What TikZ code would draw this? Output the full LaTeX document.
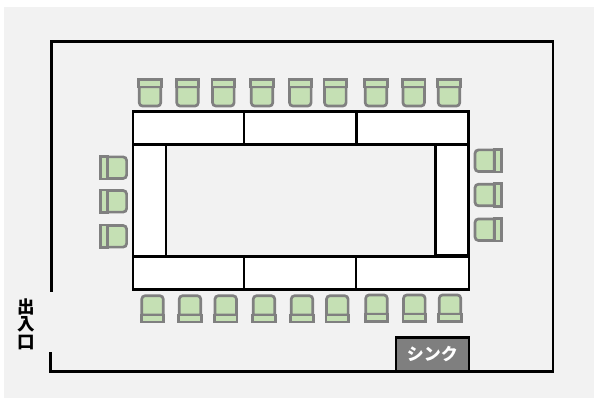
\documentclass[tikz,border=0pt]{standalone}
\usepackage{fontspec}
\newfontfamily\cjk{Noto Sans CJK JP}
\tikzset{
    x=1pt, y=-1pt,
    wall/.style={draw=black, line width=2.6pt},
    desk/.style={rectangle, draw=black, line width=2.6pt, fill=white, inner sep=0pt},
    chairpart/.style={draw=chairgray, line width=2.7pt, fill=chairgreen},
    chairtop/.pic={
        \draw[chairpart] (-10.8,3.6) {[rounded corners=3.5pt] -- (-10.8,22.8) -- (10.8,22.8)} -- (10.8,3.6) -- cycle;
        \draw[chairpart] (-11.2,-3.6) rectangle (11.2,3.6);
    },
    chairbottom/.pic={
        \draw[chairpart] (-10.8,-3.6) {[rounded corners=3.5pt] -- (-10.8,-22.8) -- (10.8,-22.8)} -- (10.8,-3.6) -- cycle;
        \draw[chairpart] (-11.2,-3.6) rectangle (11.2,3.6);
    },
    chairleft/.pic={
        \draw[chairpart] (3.6,-10.8) {[rounded corners=3.5pt] -- (22.8,-10.8) -- (22.8,10.8)} -- (3.6,10.8) -- cycle;
        \draw[chairpart] (-3.6,-11.2) rectangle (3.6,11.2);
    },
    chairright/.pic={
        \draw[chairpart] (-3.6,-10.8) {[rounded corners=3.5pt] -- (-22.8,-10.8) -- (-22.8,10.8)} -- (-3.6,10.8) -- cycle;
        \draw[chairpart] (-3.6,-11.2) rectangle (3.6,11.2);
    },
}
\definecolor{floorgray}{HTML}{F2F2F2}
\definecolor{chairgray}{HTML}{808080}
\definecolor{chairgreen}{HTML}{C5E0B4}
\definecolor{sinkgray}{HTML}{7F7F7F}
\begin{document}
\begin{tikzpicture}
    \useasboundingbox (0,0) rectangle (594,398);
    \fill[floorgray] (4,7) rectangle (594,398);

    % room
    \coordinate (doorT) at (51.7,291.5);
    \coordinate (nw) at (51.7,41.5);
    \coordinate (ne) at (553,41.5);
    \coordinate (se) at (553,371.5);
    \coordinate (sw) at (50.7,371.5);
    \coordinate (doorB) at (50.7,351.5);
    \draw[wall] (doorT) -- (nw) -- (ne) -- (se) -- (sw) -- (doorB);

    % chairs
    \pic at (150,83.3) {chairtop};
    \pic at (187.5,83.3) {chairtop};
    \pic at (223.3,83.3) {chairtop};
    \pic at (262,83.3) {chairtop};
    \pic at (300.3,83.3) {chairtop};
    \pic at (335.3,83.3) {chairtop};
    \pic at (376,83.3) {chairtop};
    \pic at (413.7,83.3) {chairtop};
    \pic at (449,83.3) {chairtop};
    \pic at (152.5,318.5) {chairbottom};
    \pic at (190,318.5) {chairbottom};
    \pic at (225.7,318.5) {chairbottom};
    \pic at (264,318.5) {chairbottom};
    \pic at (302,318.5) {chairbottom};
    \pic at (337.3,318.5) {chairbottom};
    \pic at (376.5,317.7) {chairbottom};
    \pic at (414.3,317.7) {chairbottom};
    \pic at (450,317.7) {chairbottom};
    \pic at (103.8,167.7) {chairleft};
    \pic at (103.8,201.3) {chairleft};
    \pic at (103.8,236.3) {chairleft};
    \pic at (497.8,160.7) {chairright};
    \pic at (497.8,195) {chairright};
    \pic at (497.8,229.7) {chairright};

    % tables
    \node[desk, minimum width=33pt, minimum height=113pt] (L) at (149.5,200.3) {};
    \node[desk, minimum width=33pt, minimum height=112pt] (R) at (451.8,199.7) {};
    \node[desk, minimum width=111pt, minimum height=33pt] (T1) at (188.5,127.8) {};
    \node[desk, minimum width=112pt, minimum height=33pt] (T2) at (300,127.8) {};
    \node[desk, minimum width=112pt, minimum height=33pt] (T3) at (412.3,127.8) {};
    \node[desk, minimum width=111pt, minimum height=33pt] (B1) at (188.5,272.8) {};
    \node[desk, minimum width=112pt, minimum height=33pt] (B2) at (299.8,272.8) {};
    \node[desk, minimum width=113pt, minimum height=33pt] (B3) at (412.3,272.8) {};

    % sink and door
    \node[rectangle, draw=black, line width=2.6pt, fill=sinkgray, text=white, font=\cjk\bfseries\fontsize{17}{17}\selectfont, minimum width=73pt, minimum height=33.5pt, inner sep=0pt] (sink) at (432.3,354.5) {シンク};
    \node[font=\cjk\bfseries\fontsize{17.5}{17.5}\selectfont, align=center, inner sep=0pt] (door) at (26,324) {出\\入\\口};
\end{tikzpicture}
\end{document}
